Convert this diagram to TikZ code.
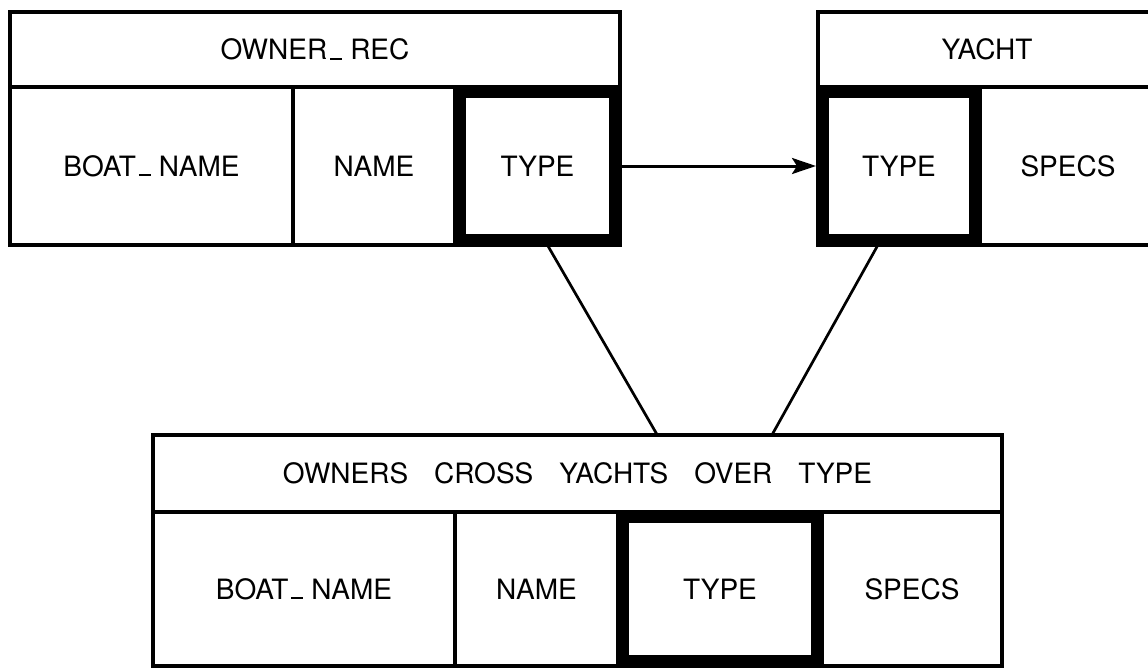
\documentclass[tikz,border=0pt]{standalone}
\usepackage{fontspec}
\setmainfont{TeX Gyre Heros}
\usetikzlibrary{arrows.meta,calc}

% short low dash used in field names
\newcommand{\fieldsep}{\kern3pt\rule{12pt}{2pt}\kern8pt}

\tikzset{
  thin/.style={line width=3.1pt},
  cell/.style={draw, thin, rectangle, inner sep=0pt, outer sep=0pt,
    font=\fontsize{28}{34}\selectfont, text height=20pt, text depth=0pt},
  keycell/.style={draw, line width=11pt, rectangle, inner sep=0pt, outer sep=5.5pt,
    font=\fontsize{28}{34}\selectfont, text height=20pt, text depth=0pt},
  link/.style={line width=2.7pt},
  arrowline/.style={line width=3pt, -{Stealth[length=24pt,width=16pt,inset=5pt]}},
}

\begin{document}
\begin{tikzpicture}[x=1pt, y=-1pt]
  \useasboundingbox (0,0) rectangle (1148,667);
  \clip (0,0) rectangle (1148,667);

  % OWNER_REC relation
  \node[cell, minimum width=610pt, minimum height=75pt] (ho) at (315,49.5) {OWNER\fieldsep REC};
  \node[cell, minimum width=283pt, minimum height=158pt] (ob) at (151.5,166) {BOAT\fieldsep NAME};
  \node[cell, minimum width=162pt, minimum height=158pt] (on) at (374,166) {NAME};
  \node[cell, minimum width=165pt, minimum height=158pt] at (537.5,166) {};
  \node[keycell, minimum width=154pt, minimum height=147pt] (ot) at (537.5,166) {TYPE};

  % YACHT relation
  \node[cell, minimum width=338pt, minimum height=75pt] (hy) at (987,49.5) {YACHT};
  \node[cell, minimum width=162pt, minimum height=158pt] at (899,166) {};
  \node[keycell, minimum width=151pt, minimum height=147pt] (yt) at (899,166) {TYPE};
  \node[cell, minimum width=176pt, minimum height=158pt] (ys) at (1068,166) {SPECS};

  % joined relation
  \node[cell, minimum width=849pt, minimum height=77pt] (hc) at (577.5,473.5)
    {OWNERS\hspace{26pt}CROSS\hspace{26pt}YACHTS\hspace{26pt}OVER\hspace{26pt}TYPE};
  \node[cell, minimum width=302pt, minimum height=154pt] (cb) at (304,589) {BOAT\fieldsep NAME};
  \node[cell, minimum width=163pt, minimum height=154pt] (cn) at (536.5,589) {NAME};
  \node[cell, minimum width=204pt, minimum height=154pt] at (720,589) {};
  \node[keycell, minimum width=193pt, minimum height=143pt] (ct) at (720,589) {TYPE};
  \node[cell, minimum width=180pt, minimum height=154pt] (cs) at (912,589) {SPECS};

  % connectors
  \draw[arrowline] (ot.east) -- ([xshift=-2pt]yt.west);
  \draw[link] ($(ot.south west)!0.56!(ot.south east)$) -- ($(hc.north west)!0.594!(hc.north east)$);
  \draw[link] ($(yt.south west)!0.37!(yt.south east)$) -- ($(hc.north west)!0.729!(hc.north east)$);
\end{tikzpicture}
\end{document}
